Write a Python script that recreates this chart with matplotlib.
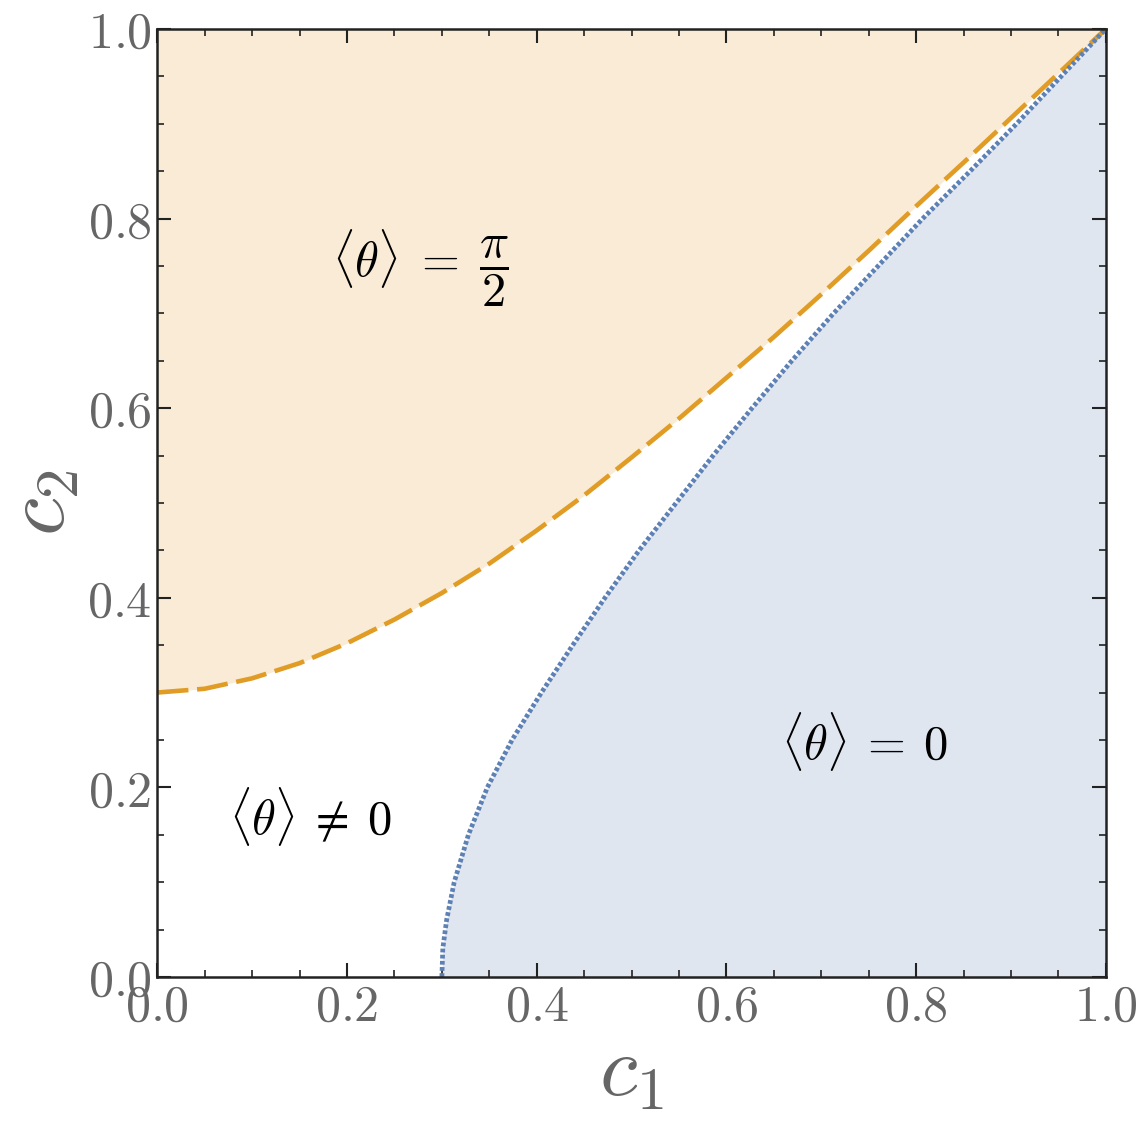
import numpy as np
import matplotlib.pyplot as plt
from matplotlib.ticker import MultipleLocator, FuncFormatter

plt.rcParams['mathtext.fontset'] = 'cm'

# boundary of the <theta> = pi/2 phase (orange, dashed)
c1_orange = [0.0, 0.05, 0.10, 0.15, 0.20, 0.25, 0.30, 0.35, 0.40, 0.45, 0.50,
             0.55, 0.60, 0.65, 0.70, 0.75, 0.80, 0.85, 0.90, 0.95, 1.0]
c2_orange = [0.300, 0.304, 0.315, 0.331, 0.352, 0.377, 0.405, 0.436, 0.471, 0.508, 0.548,
             0.589, 0.632, 0.675, 0.720, 0.766, 0.813, 0.859, 0.906, 0.953, 1.0]

# boundary of the <theta> = 0 phase (blue, dotted)
c2_blue = [0.0, 0.03, 0.06, 0.10, 0.15, 0.20, 0.25, 0.30, 0.35, 0.40, 0.45,
           0.50, 0.55, 0.60, 0.65, 0.70, 0.75, 0.80, 0.85, 0.90, 0.95, 1.0]
c1_blue = [0.300, 0.301, 0.305, 0.313, 0.328, 0.348, 0.374, 0.405, 0.438, 0.472, 0.508,
           0.547, 0.586, 0.627, 0.669, 0.713, 0.760, 0.807, 0.857, 0.906, 0.953, 1.0]

orange = '#E09C24'
blue = '#5E81B5'
gray = '#666666'

fig = plt.figure(figsize=(11.4, 11.25), dpi=100)
ax = fig.add_axes([0.138, 0.1316, 0.832, 0.8427])

ax.fill_between(c1_orange, c2_orange, 1, color='#F9EBD5', lw=0)
ax.fill_betweenx(c2_blue, c1_blue, 1, color='#DFE6F0', lw=0)
ax.plot(c1_orange, c2_orange, color=orange, lw=3.3, ls=(0, (6.8, 1.9)),
        dash_capstyle='butt')
ax.plot(c1_blue, c2_blue, color=blue, lw=3.4, ls=(0, (0.8, 0.5)),
        dash_capstyle='butt')

ax.set_xlim(0, 1)
ax.set_ylim(0, 1)

ax.xaxis.set_major_locator(MultipleLocator(0.2))
ax.yaxis.set_major_locator(MultipleLocator(0.2))
ax.xaxis.set_minor_locator(MultipleLocator(0.05))
ax.yaxis.set_minor_locator(MultipleLocator(0.05))
fmt = FuncFormatter(lambda v, p: r'$%.1f$' % v)
ax.xaxis.set_major_formatter(fmt)
ax.yaxis.set_major_formatter(fmt)
ax.tick_params(which='both', direction='in', top=True, right=True,
               labelsize=36, labelcolor=gray, color='#222222')
ax.tick_params(which='major', length=10, width=1.5, pad=4)
ax.tick_params(which='minor', length=5, width=1.2)
for s in ax.spines.values():
    s.set_linewidth(1.8)
    s.set_color('#222222')

ax.set_xlabel(r'$c_1$', fontsize=62, color=gray, labelpad=0)
ax.set_ylabel(r'$c_2$', fontsize=62, color=gray, labelpad=4)

ax.text(0.277, 0.748, r'$\langle\theta\rangle\;=\;\dfrac{\pi}{2}$', fontsize=35,
        ha='center', va='center')
ax.text(0.161, 0.169, r'$\langle\theta\rangle\:\neq\:0$', fontsize=35,
        ha='center', va='center')
ax.text(0.746, 0.248, r'$\langle\theta\rangle\:=\:0$', fontsize=35,
        ha='center', va='center')

fig.savefig('out.png', dpi=100)
